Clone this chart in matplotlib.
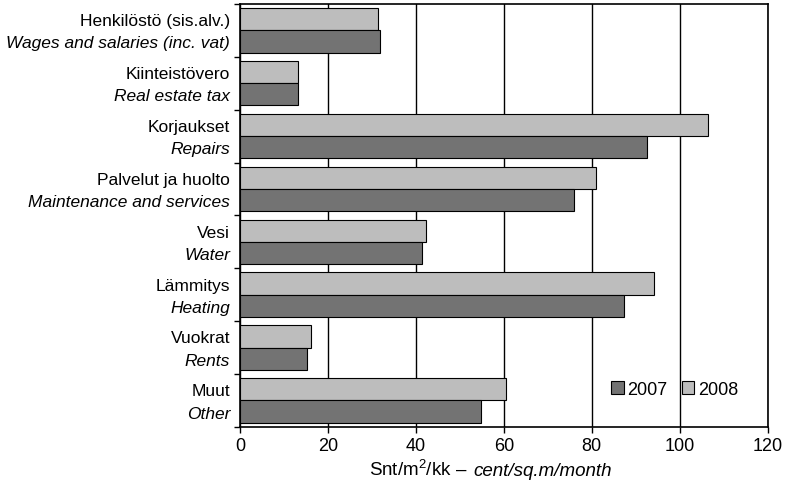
import numpy as np
import matplotlib
matplotlib.use("Agg")
import matplotlib.pyplot as plt
from matplotlib.offsetbox import TextArea, HPacker, AnchoredOffsetbox

plt.rcParams['font.family'] = ['Liberation Sans', 'DejaVu Sans']
plt.rcParams['mathtext.fontset'] = 'custom'
plt.rcParams['mathtext.rm'] = 'Liberation Sans'
plt.rcParams['mathtext.it'] = 'Liberation Sans:italic'

# category labels (Finnish / English)
labels_fi = ['Henkilöstö (sis.alv.)', 'Kiinteistövero', 'Korjaukset', 'Palvelut ja huolto',
             'Vesi', 'Lämmitys', 'Vuokrat', 'Muut']
labels_en = ['Wages and salaries (inc. vat)', 'Real estate tax', 'Repairs',
             'Maintenance and services', 'Water', 'Heating', 'Rents', 'Other']

# cent / sq.m / month
values_2007 = [31.8, 13.3, 92.5, 76.0, 41.5, 87.3, 15.2, 54.8]
values_2008 = [31.5, 13.3, 106.5, 81.0, 42.3, 94.2, 16.1, 60.5]

color_2007 = '#737373'
color_2008 = '#bdbdbd'

fig, ax = plt.subplots(figsize=(7.89, 4.89), dpi=100)
fig.subplots_adjust(left=0.304, right=0.973, top=0.990, bottom=0.125)

y = np.arange(len(labels_fi))
h = 0.42
ax.barh(y - h / 2, values_2008, height=h, color=color_2008, edgecolor='black',
        linewidth=0.8, label='2008', zorder=3)
ax.barh(y + h / 2, values_2007, height=h, color=color_2007, edgecolor='black',
        linewidth=0.8, label='2007', zorder=3)

ax.set_xlim(0, 120)
ax.set_ylim(len(labels_fi) - 0.5, -0.5)
ax.set_xticks(range(0, 121, 20))
ax.tick_params(axis='x', labelsize=13, length=4, width=1)
ax.grid(axis='x', color='black', linewidth=1, zorder=0)

# labels at bar centres, ticks at category borders
ax.set_yticks(list(y - h / 2) + list(y + h / 2))
ax.set_yticklabels(labels_fi + labels_en, fontsize=12.5)
for t in ax.get_yticklabels()[len(labels_fi):]:
    t.set_style('italic')
ax.tick_params(axis='y', which='major', length=0, pad=7)
ax.set_yticks(np.arange(len(labels_fi) + 1) - 0.5, minor=True)
ax.tick_params(axis='y', which='minor', length=4, width=1)

for s in ax.spines.values():
    s.set_linewidth(1.2)

# x axis title: upright Finnish part + italic English part
part1 = TextArea(r'Snt/m$^2$/kk –', textprops=dict(fontsize=13.5))
part2 = TextArea('cent/sq.m/month', textprops=dict(fontsize=13.5, style='italic'))
title_box = HPacker(children=[part1, part2], align='baseline', pad=0, sep=4)
anchored = AnchoredOffsetbox(loc='upper center', child=title_box, pad=0, frameon=False,
                             bbox_to_anchor=(0.475, -0.075), bbox_transform=ax.transAxes,
                             borderpad=0)
ax.add_artist(anchored)

handles, lbls = ax.get_legend_handles_labels()
ax.legend(handles[::-1], lbls[::-1], ncol=2, frameon=False, fontsize=13,
          loc='lower right', bbox_to_anchor=(0.975, 0.03),
          handlelength=0.7, handleheight=0.7, handletextpad=0.2, columnspacing=0.8)

plt.savefig('out.png')
